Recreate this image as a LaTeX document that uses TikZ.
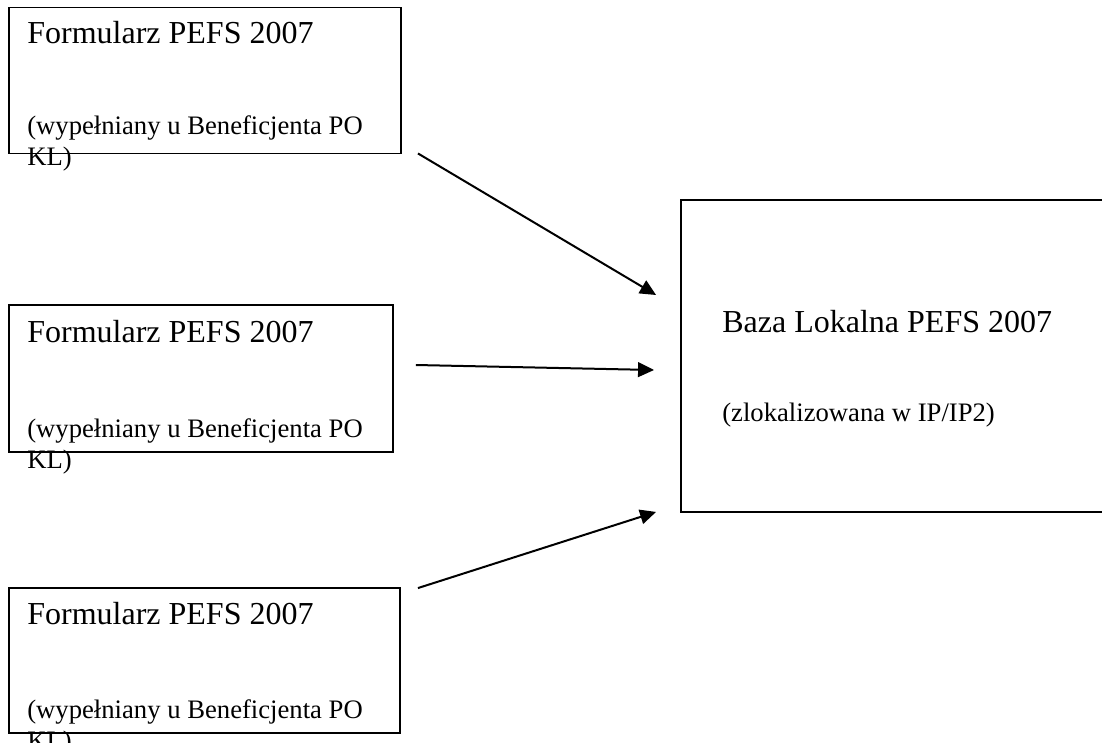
\documentclass[tikz,border=0pt]{standalone}
\usepackage{fontspec}
\setmainfont{Liberation Serif}
\usepackage{tikz}
\usetikzlibrary{calc,positioning,arrows.meta}
\tikzstyle{flowchart}=[
  >={Triangle[length=12pt,width=11pt]}, x=0.75pt, y=-0.75pt
]
\tikzstyle{formbox}=[
  draw, rectangle, line width=1.4pt, inner sep=0pt
]
\tikzstyle{boxtitle}=[
  inner sep=0pt, anchor=base west, font=\fontsize{24pt}{28pt}\selectfont
]
\tikzstyle{boxnote}=[
  inner sep=0pt, anchor=base west, align=left, font=\fontsize{20pt}{23.25pt}\selectfont
]
\tikzstyle{feed}=[
  ->, line width=1.5pt
]

\begin{document}
\begin{tikzpicture}[flowchart]
    \useasboundingbox (0,0) rectangle (1102,742);
      % formularze
      \node (f1) at (205,80.5) [formbox, minimum width=294pt, minimum height=109.5pt] {};
      \node (f2) at (201,378.5) [formbox, minimum width=288pt, minimum height=110.25pt] {};
      \node (f3) at (204.5,660.5) [formbox, minimum width=293.25pt, minimum height=108.75pt] {};
      \node (f1t) at ($(f1.north west) + (19,37)$) [boxtitle] {Formularz PEFS 2007};
      \node (f1n) at ($(f1.south west) + (19,11)$) [boxnote] {(wypełniany u Beneficjenta PO\\KL)};
      \node (f2t) at ($(f2.north west) + (19,38)$) [boxtitle] {Formularz PEFS 2007};
      \node (f2n) at ($(f2.south west) + (19,16)$) [boxnote] {(wypełniany u Beneficjenta PO\\KL)};
      \node (f3t) at ($(f3.north west) + (19,37)$) [boxtitle] {Formularz PEFS 2007};
      \node (f3n) at ($(f3.south west) + (19,16)$) [boxnote] {(wypełniany u Beneficjenta PO\\KL)};
      % baza
      \node (baza) at (894.5,356) [formbox, minimum width=320.25pt, minimum height=234pt] {};
      \node (bazat) at ($(baza.north west) + (42,133)$) [boxtitle] {Baza Lokalna PEFS 2007};
      \node (bazan) at ($(baza.north west) + (42,222)$) [boxnote] {(zlokalizowana w IP/IP2)};
      % strzalki
      \coordinate (s1) at ($(f1.south east) + (16,-1)$);
      \coordinate (s2) at ($(f2.east) + (22,-13.5)$);
      \coordinate (s3) at ($(f3.north east) + (17,1)$);
      \coordinate (t1) at ($(baza.west) + (-24,-61)$);
      \coordinate (t2) at ($(baza.west) + (-26,14)$);
      \coordinate (t3) at ($(baza.south west) + (-24,-1)$);
      \draw [feed] (s1) -- (t1);
      \draw [feed] (s2) -- (t2);
      \draw [feed] (s3) -- (t3);
    \end{tikzpicture}
\end{document}
